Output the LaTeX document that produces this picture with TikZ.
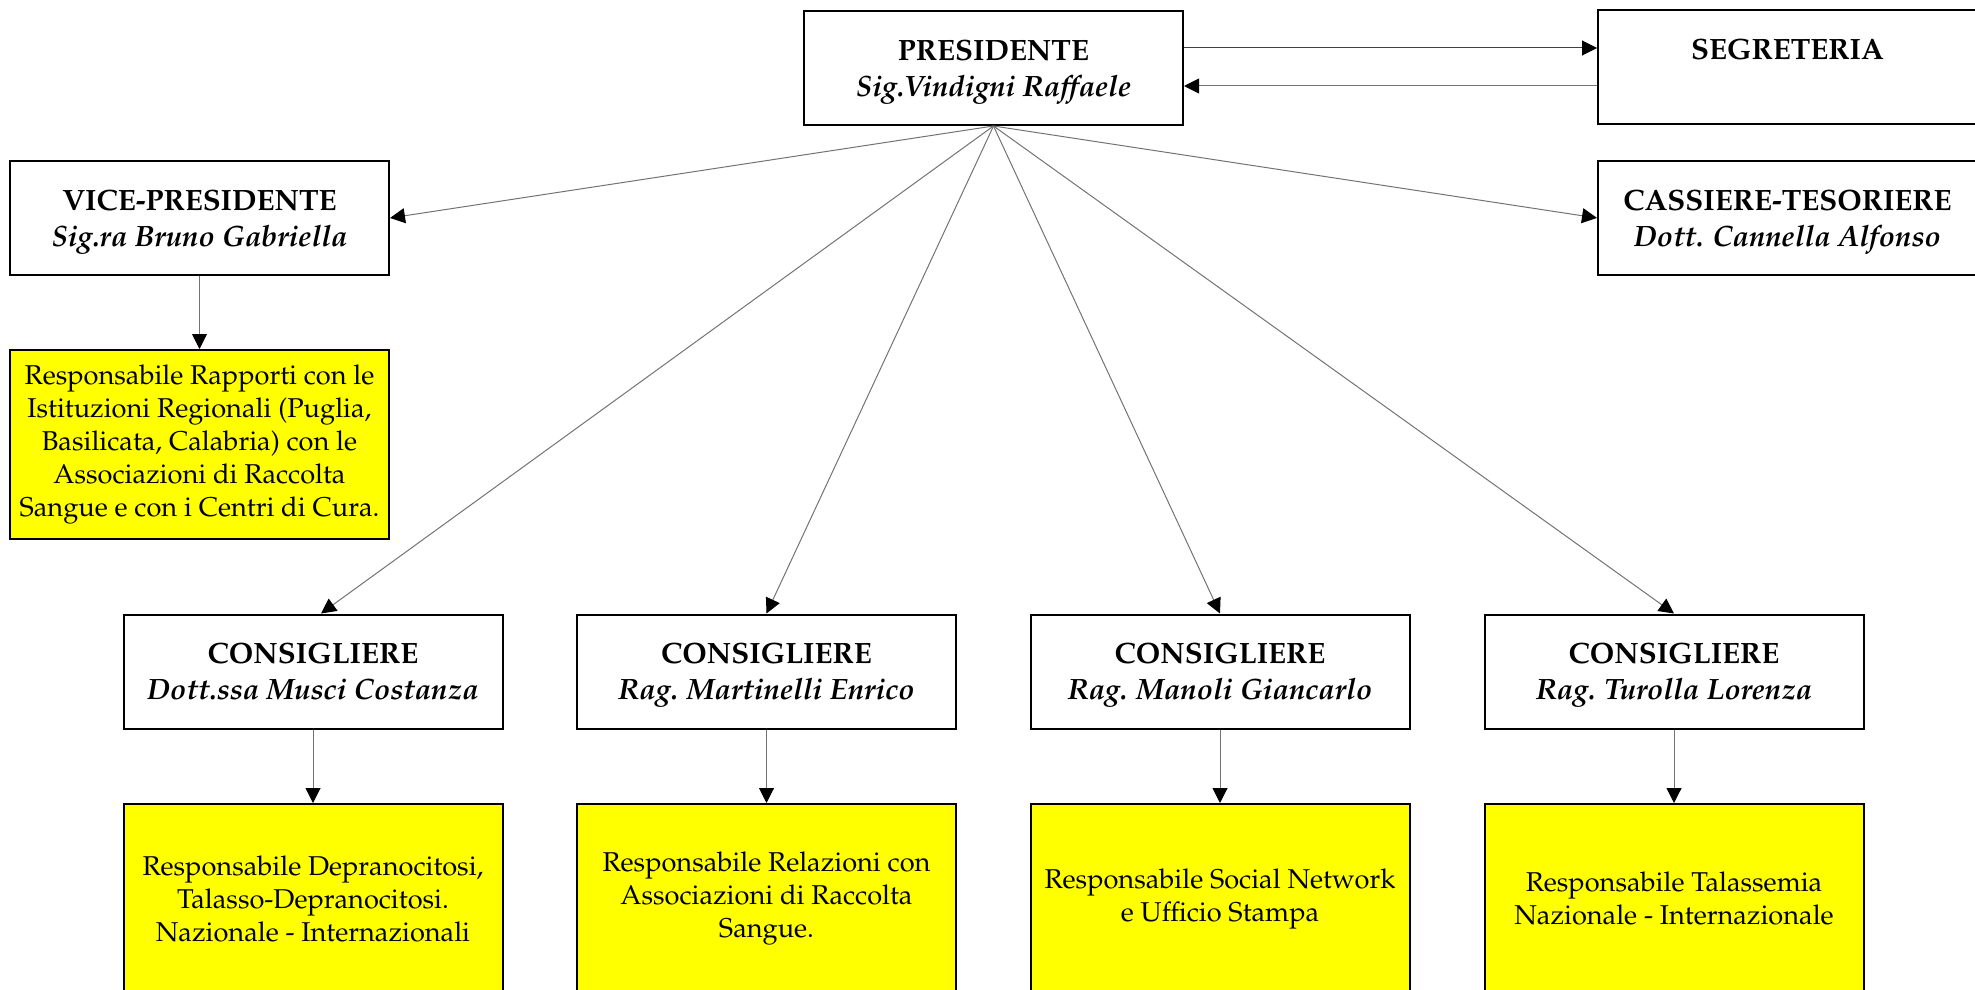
\documentclass[tikz,border=0pt]{standalone}
\usepackage[T1]{fontenc}
\usepackage{mathpazo}
\usepackage{tikz}
\usetikzlibrary{positioning,arrows.meta}
\definecolor{giallo}{RGB}{255,255,0}

\begin{document}
\begin{tikzpicture}[x=0.5pt,y=-0.5pt,
    carica/.style={draw=black,line width=1pt,fill=white,minimum width=189.5pt,minimum height=57pt,inner sep=2pt,align=center,text depth=0pt,font=\fontsize{14.7}{18}\selectfont},
    compito/.style={draw=black,line width=1pt,fill=giallo,minimum width=189.5pt,minimum height=94.5pt,inner sep=2pt,align=center,font=\fontsize{13.6}{16.5}\selectfont},
    freccia/.style={draw=black!55,line width=0.5pt,-{Triangle[length=7.5pt,width=7.5pt,color=black]}}]
    \useasboundingbox (0,0) rectangle (1975,990);

    % Vertice
    \node[carica] (pres) at (993.5,68) {\textbf{PRESIDENTE}\\\textbf{\textit{Sig.Vindigni Raffaele}}};
    \node[carica] (segr) at (1787.5,67) {\textbf{SEGRETERIA}\\\textbf{\textit{\phantom{Sig}}}};
    \node[carica] (cass) at (1787.5,218) {\textbf{CASSIERE-TESORIERE}\\\textbf{\textit{Dott. Cannella Alfonso}}};
    \node[carica] (vice) at (199.5,218) {\textbf{VICE-PRESIDENTE}\\\textbf{\textit{Sig.ra Bruno Gabriella}}};
    \node[compito] (vicey) at (199.5,444.5) {Responsabile Rapporti con le\\Istituzioni Regionali (Puglia,\\Basilicata, Calabria) con le\\Associazioni di Raccolta\\Sangue e con i Centri di Cura.};

    % Consiglieri
    \node[carica] (cons1) at (313,671.5) {\textbf{CONSIGLIERE}\\\textbf{\textit{Dott.ssa Musci Costanza}}};
    \node[carica] (cons2) at (766.5,671.5) {\textbf{CONSIGLIERE}\\\textbf{\textit{Rag. Martinelli Enrico}}};
    \node[carica] (cons3) at (1220,671.5) {\textbf{CONSIGLIERE}\\\textbf{\textit{Rag. Manoli Giancarlo}}};
    \node[carica] (cons4) at (1674,671.5) {\textbf{CONSIGLIERE}\\\textbf{\textit{Rag. Turolla Lorenza}}};

    % Compiti
    \node[compito] (resp1) at (313,898.5) {Responsabile Depranocitosi,\\Talasso-Depranocitosi.\\Nazionale - Internazionali};
    \node[compito] (resp2) at (766.5,898.5) {Responsabile Relazioni con\\Associazioni di Raccolta\\Sangue.};
    \node[compito] (resp3) at (1220,898.5) {Responsabile Social Network\\e Ufficio Stampa};
    \node[compito] (resp4) at (1674,898.5) {Responsabile Talassemia\\Nazionale - Internazionale};

    % Frecce
    \draw[freccia,draw=black!75] ([yshift=10pt]pres.east) -- ([yshift=10pt]pres.east -| segr.west);
    \draw[freccia] ([yshift=-9.5pt]segr.west) -- ([yshift=-9.5pt]segr.west -| pres.east);
    \draw[freccia] (pres.south) -- (vice.east);
    \draw[freccia] (pres.south) -- (cass.west);
    \draw[freccia] (pres.south) -- ([xshift=4pt]cons1.north);
    \draw[freccia] (pres.south) -- (cons2.north);
    \draw[freccia] (pres.south) -- (cons3.north);
    \draw[freccia] (pres.south) -- (cons4.north);
    \draw[freccia] (vice.south) -- (vicey.north);
    \draw[freccia] (cons1.south) -- (resp1.north);
    \draw[freccia] (cons2.south) -- (resp2.north);
    \draw[freccia] (cons3.south) -- (resp3.north);
    \draw[freccia] (cons4.south) -- (resp4.north);
\end{tikzpicture}
\end{document}
